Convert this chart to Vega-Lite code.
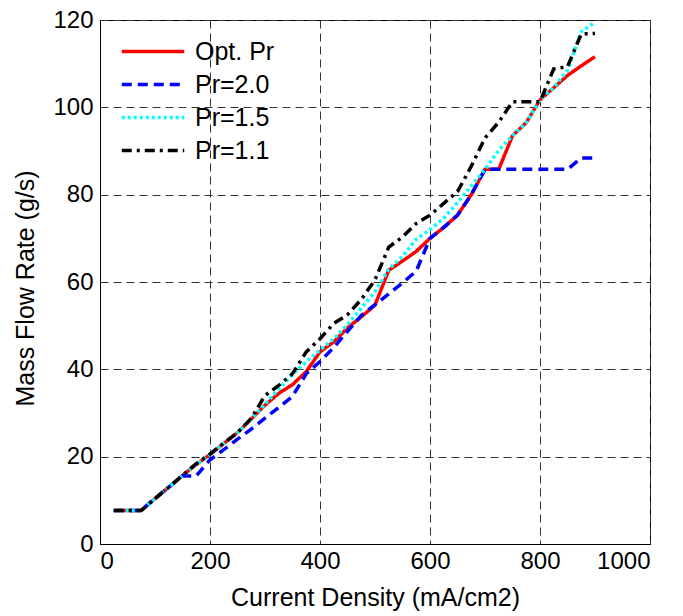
{
  "$schema": "https://vega.github.io/schema/vega-lite/v6.json",
  "width": 550,
  "height": 524,
  "autosize": {"type": "none"},
  "padding": {"left": 100, "top": 20, "right": 33, "bottom": 72},
  "background": "white",
  "config": {
    "font": "Liberation Sans",
    "view": {"stroke": "black", "strokeWidth": 1},
    "axis": {
      "domainColor": "black",
      "ticks": false,
      "labelFont": "Liberation Sans",
      "labelFontSize": 24,
      "labelColor": "black",
      "labelPadding": 7,
      "titleFont": "Liberation Sans",
      "titleFontSize": 25,
      "titleFontWeight": "normal",
      "titleColor": "black",
      "gridColor": "#333333",
      "gridDash": [8, 5],
      "gridWidth": 1,
      "gridOpacity": 1
    },
    "legend": {
      "orient": "none",
      "legendX": 20,
      "legendY": 15,
      "padding": 0,
      "title": null,
      "symbolType": "stroke",
      "symbolSize": 3900,
      "symbolStrokeWidth": 3.5,
      "labelFont": "Liberation Sans",
      "labelFontSize": 25,
      "labelColor": "black",
      "labelOffset": 9,
      "clipHeight": 33,
      "rowPadding": 0
    }
  },
  "data": {
    "values": [
      {"x": 25, "s": "Opt. Pr", "y": 7.7}, {"x": 50, "s": "Opt. Pr", "y": 7.7}, {"x": 75, "s": "Opt. Pr", "y": 7.7}, {"x": 100, "s": "Opt. Pr", "y": 10.4}, {"x": 125, "s": "Opt. Pr", "y": 13.0}, {"x": 150, "s": "Opt. Pr", "y": 15.7}, {"x": 175, "s": "Opt. Pr", "y": 18.2}, {"x": 200, "s": "Opt. Pr", "y": 20.5}, {"x": 225, "s": "Opt. Pr", "y": 23.0}, {"x": 250, "s": "Opt. Pr", "y": 25.5}, {"x": 275, "s": "Opt. Pr", "y": 28.6}, {"x": 300, "s": "Opt. Pr", "y": 31.8}, {"x": 325, "s": "Opt. Pr", "y": 34.5}, {"x": 350, "s": "Opt. Pr", "y": 36.5}, {"x": 375, "s": "Opt. Pr", "y": 39.5}, {"x": 400, "s": "Opt. Pr", "y": 44.0}, {"x": 425, "s": "Opt. Pr", "y": 46.3}, {"x": 450, "s": "Opt. Pr", "y": 49.5}, {"x": 475, "s": "Opt. Pr", "y": 52.0}, {"x": 500, "s": "Opt. Pr", "y": 54.7}, {"x": 525, "s": "Opt. Pr", "y": 62.7}, {"x": 550, "s": "Opt. Pr", "y": 64.8}, {"x": 575, "s": "Opt. Pr", "y": 67.0}, {"x": 600, "s": "Opt. Pr", "y": 70.0}, {"x": 625, "s": "Opt. Pr", "y": 72.5}, {"x": 650, "s": "Opt. Pr", "y": 75.3}, {"x": 675, "s": "Opt. Pr", "y": 80.0}, {"x": 700, "s": "Opt. Pr", "y": 85.8}, {"x": 725, "s": "Opt. Pr", "y": 85.8}, {"x": 750, "s": "Opt. Pr", "y": 93.5}, {"x": 775, "s": "Opt. Pr", "y": 96.5}, {"x": 800, "s": "Opt. Pr", "y": 101.7}, {"x": 825, "s": "Opt. Pr", "y": 104.5}, {"x": 850, "s": "Opt. Pr", "y": 107.3}, {"x": 875, "s": "Opt. Pr", "y": 109.5}, {"x": 900, "s": "Opt. Pr", "y": 111.6},

      {"x": 25, "s": "Pr=2.0", "y": 7.7}, {"x": 50, "s": "Pr=2.0", "y": 7.7}, {"x": 75, "s": "Pr=2.0", "y": 7.7}, {"x": 100, "s": "Pr=2.0", "y": 10.4}, {"x": 125, "s": "Pr=2.0", "y": 13.0}, {"x": 150, "s": "Pr=2.0", "y": 15.6}, {"x": 175, "s": "Pr=2.0", "y": 15.6}, {"x": 200, "s": "Pr=2.0", "y": 19.3}, {"x": 225, "s": "Pr=2.0", "y": 21.6}, {"x": 250, "s": "Pr=2.0", "y": 24.0}, {"x": 275, "s": "Pr=2.0", "y": 26.3}, {"x": 300, "s": "Pr=2.0", "y": 28.8}, {"x": 325, "s": "Pr=2.0", "y": 31.3}, {"x": 350, "s": "Pr=2.0", "y": 33.8}, {"x": 375, "s": "Pr=2.0", "y": 39.0}, {"x": 400, "s": "Pr=2.0", "y": 41.8}, {"x": 425, "s": "Pr=2.0", "y": 45.0}, {"x": 450, "s": "Pr=2.0", "y": 48.7}, {"x": 475, "s": "Pr=2.0", "y": 52.3}, {"x": 500, "s": "Pr=2.0", "y": 54.8}, {"x": 525, "s": "Pr=2.0", "y": 57.3}, {"x": 550, "s": "Pr=2.0", "y": 59.8}, {"x": 575, "s": "Pr=2.0", "y": 62.5}, {"x": 600, "s": "Pr=2.0", "y": 70.0}, {"x": 625, "s": "Pr=2.0", "y": 72.5}, {"x": 650, "s": "Pr=2.0", "y": 75.3}, {"x": 675, "s": "Pr=2.0", "y": 80.0}, {"x": 700, "s": "Pr=2.0", "y": 85.8}, {"x": 725, "s": "Pr=2.0", "y": 85.8}, {"x": 750, "s": "Pr=2.0", "y": 85.8}, {"x": 775, "s": "Pr=2.0", "y": 85.8}, {"x": 800, "s": "Pr=2.0", "y": 85.8}, {"x": 825, "s": "Pr=2.0", "y": 85.8}, {"x": 850, "s": "Pr=2.0", "y": 85.8}, {"x": 875, "s": "Pr=2.0", "y": 88.4}, {"x": 900, "s": "Pr=2.0", "y": 88.4},

      {"x": 25, "s": "Pr=1.5", "y": 7.7}, {"x": 50, "s": "Pr=1.5", "y": 7.7}, {"x": 75, "s": "Pr=1.5", "y": 7.7}, {"x": 100, "s": "Pr=1.5", "y": 10.4}, {"x": 125, "s": "Pr=1.5", "y": 13.0}, {"x": 150, "s": "Pr=1.5", "y": 15.7}, {"x": 175, "s": "Pr=1.5", "y": 18.2}, {"x": 200, "s": "Pr=1.5", "y": 20.5}, {"x": 225, "s": "Pr=1.5", "y": 23.0}, {"x": 250, "s": "Pr=1.5", "y": 25.5}, {"x": 275, "s": "Pr=1.5", "y": 28.6}, {"x": 300, "s": "Pr=1.5", "y": 32.0}, {"x": 325, "s": "Pr=1.5", "y": 35.5}, {"x": 350, "s": "Pr=1.5", "y": 38.8}, {"x": 375, "s": "Pr=1.5", "y": 41.8}, {"x": 400, "s": "Pr=1.5", "y": 44.4}, {"x": 425, "s": "Pr=1.5", "y": 47.0}, {"x": 450, "s": "Pr=1.5", "y": 50.3}, {"x": 475, "s": "Pr=1.5", "y": 54.0}, {"x": 500, "s": "Pr=1.5", "y": 57.8}, {"x": 525, "s": "Pr=1.5", "y": 63.0}, {"x": 550, "s": "Pr=1.5", "y": 65.8}, {"x": 575, "s": "Pr=1.5", "y": 69.8}, {"x": 600, "s": "Pr=1.5", "y": 72.0}, {"x": 625, "s": "Pr=1.5", "y": 74.6}, {"x": 650, "s": "Pr=1.5", "y": 78.2}, {"x": 675, "s": "Pr=1.5", "y": 82.0}, {"x": 700, "s": "Pr=1.5", "y": 85.8}, {"x": 725, "s": "Pr=1.5", "y": 90.2}, {"x": 750, "s": "Pr=1.5", "y": 93.5}, {"x": 775, "s": "Pr=1.5", "y": 96.5}, {"x": 800, "s": "Pr=1.5", "y": 101.7}, {"x": 825, "s": "Pr=1.5", "y": 104.5}, {"x": 850, "s": "Pr=1.5", "y": 108.5}, {"x": 875, "s": "Pr=1.5", "y": 117.3}, {"x": 900, "s": "Pr=1.5", "y": 119.5},

      {"x": 25, "s": "Pr=1.1", "y": 7.7}, {"x": 50, "s": "Pr=1.1", "y": 7.7}, {"x": 75, "s": "Pr=1.1", "y": 7.7}, {"x": 100, "s": "Pr=1.1", "y": 10.4}, {"x": 125, "s": "Pr=1.1", "y": 13.0}, {"x": 150, "s": "Pr=1.1", "y": 15.7}, {"x": 175, "s": "Pr=1.1", "y": 18.4}, {"x": 200, "s": "Pr=1.1", "y": 20.6}, {"x": 225, "s": "Pr=1.1", "y": 23.1}, {"x": 250, "s": "Pr=1.1", "y": 25.5}, {"x": 275, "s": "Pr=1.1", "y": 28.8}, {"x": 300, "s": "Pr=1.1", "y": 34.0}, {"x": 325, "s": "Pr=1.1", "y": 36.3}, {"x": 350, "s": "Pr=1.1", "y": 39.0}, {"x": 375, "s": "Pr=1.1", "y": 44.0}, {"x": 400, "s": "Pr=1.1", "y": 47.0}, {"x": 425, "s": "Pr=1.1", "y": 50.5}, {"x": 450, "s": "Pr=1.1", "y": 52.5}, {"x": 475, "s": "Pr=1.1", "y": 56.0}, {"x": 500, "s": "Pr=1.1", "y": 60.5}, {"x": 525, "s": "Pr=1.1", "y": 68.0}, {"x": 550, "s": "Pr=1.1", "y": 70.3}, {"x": 575, "s": "Pr=1.1", "y": 73.4}, {"x": 600, "s": "Pr=1.1", "y": 75.3}, {"x": 625, "s": "Pr=1.1", "y": 78.0}, {"x": 650, "s": "Pr=1.1", "y": 80.7}, {"x": 675, "s": "Pr=1.1", "y": 86.5}, {"x": 700, "s": "Pr=1.1", "y": 93.0}, {"x": 725, "s": "Pr=1.1", "y": 96.6}, {"x": 750, "s": "Pr=1.1", "y": 101.3}, {"x": 775, "s": "Pr=1.1", "y": 101.3}, {"x": 800, "s": "Pr=1.1", "y": 101.3}, {"x": 825, "s": "Pr=1.1", "y": 108.8}, {"x": 850, "s": "Pr=1.1", "y": 109.3}, {"x": 875, "s": "Pr=1.1", "y": 116.8}, {"x": 900, "s": "Pr=1.1", "y": 116.9}
    ]
  },
  "mark": {"type": "line", "strokeWidth": 3.5, "clip": true},
  "encoding": {
    "x": {
      "field": "x", "type": "quantitative",
      "scale": {"domain": [0, 1000], "nice": false, "zero": false},
      "axis": {"title": "Current Density (mA/cm2)", "format": "d", "values": [0, 200, 400, 600, 800, 1000], "labelPadding": 5, "titleY": 53, "titleBaseline": "middle", "titleX": 275}
    },
    "y": {
      "field": "y", "type": "quantitative",
      "scale": {"domain": [0, 120], "nice": false},
      "axis": {"title": "Mass Flow Rate  (g/s)", "format": "d", "values": [0, 20, 40, 60, 80, 100, 120], "titleX": -75, "titleY": 268, "titleBaseline": "middle", "titleAngle": -90}
    },
    "color": {
      "field": "s", "type": "nominal",
      "scale": {"domain": ["Opt. Pr", "Pr=2.0", "Pr=1.5", "Pr=1.1"], "range": ["#ff0000", "#0000ff", "#00ffff", "#000000"]}
    },
    "strokeDash": {
      "field": "s", "type": "nominal",
      "scale": {"domain": ["Opt. Pr", "Pr=2.0", "Pr=1.5", "Pr=1.1"], "range": [[1, 0], [10, 6], [3, 3], [10, 5, 3, 5]]}
    }
  }
}
